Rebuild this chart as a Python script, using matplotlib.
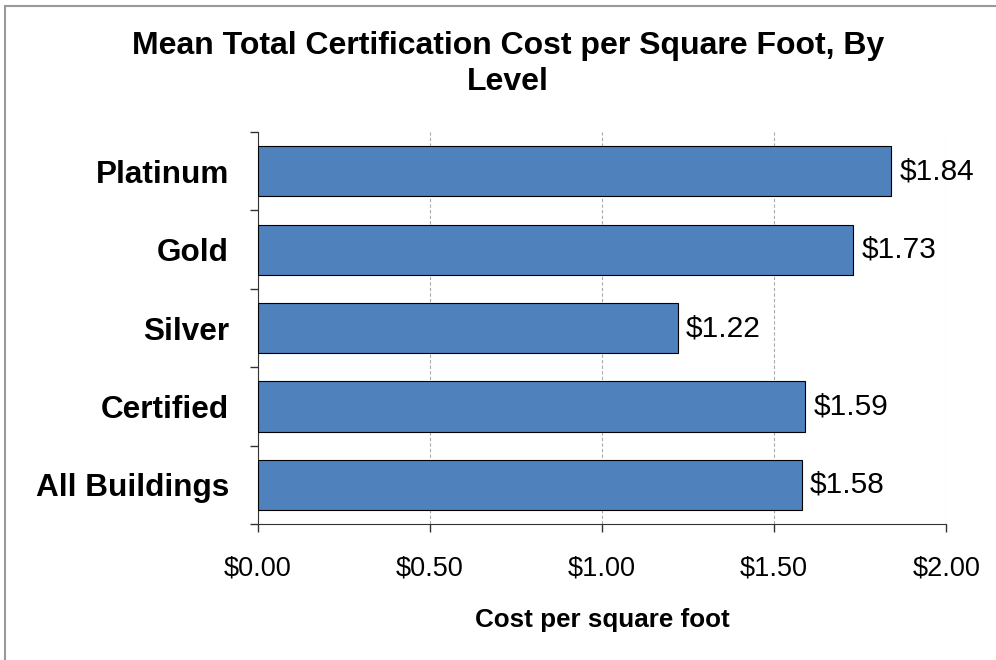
import matplotlib.pyplot as plt
from matplotlib.patches import Rectangle

plt.rcParams['font.family'] = ['Liberation Sans', 'DejaVu Sans']

levels = ['Platinum', 'Gold', 'Silver', 'Certified', 'All Buildings']
costs = [1.84, 1.73, 1.22, 1.59, 1.58]
xticks = [0.0, 0.5, 1.0, 1.5, 2.0]

fig = plt.figure(figsize=(9.96, 6.6), dpi=100)
ax = fig.add_axes([0.259, 0.206, 0.691, 0.594])

ypos = list(range(len(levels)))[::-1]
bars = ax.barh(ypos, costs, height=0.64, color='#4F81BD', edgecolor='black', linewidth=0.8, zorder=3)

for b, v in zip(bars, costs):
    ax.annotate('$%.2f' % v, (b.get_width(), b.get_y() + b.get_height() / 2),
                xytext=(6, 0), textcoords='offset points', va='center', ha='left',
                fontsize=21.5, zorder=4)

ax.set_xlim(0, 2.0)
ax.set_ylim(-0.5, len(levels) - 0.5)
ax.set_xticks(xticks)
ax.set_xticklabels(['$%.2f' % t for t in xticks], fontsize=19.5)
ax.set_yticks(ypos)
ax.set_yticklabels(levels, fontsize=22.7, fontweight='bold')
ax.set_yticks([i - 0.5 for i in range(len(levels) + 1)], minor=True)
ax.tick_params(axis='y', which='major', length=0, pad=21)
ax.tick_params(axis='y', which='minor', length=6, width=1, color='#333333')
ax.tick_params(axis='x', length=6, width=1, color='#333333', pad=17)
ax.xaxis.grid(True, linestyle=(0, (3, 2)), color='#aaaaaa', linewidth=0.8, zorder=0)
ax.spines['top'].set_visible(False)
ax.spines['right'].set_visible(False)
ax.spines['left'].set_color('#333333')
ax.spines['bottom'].set_color('#333333')
ax.set_xlabel('Cost per square foot', fontsize=18.7, fontweight='bold', labelpad=19)

fig.text(0.51, 0.903, 'Mean Total Certification Cost per Square Foot, By\nLevel',
         ha='center', va='center', fontsize=23, fontweight='bold', linespacing=1.3)

fig.patches.append(Rectangle((5 / 996, -0.1), 1.2, 1.1 - 6 / 660, transform=fig.transFigure,
                             fill=False, edgecolor='#999999', linewidth=1.5))

fig.savefig('out.png', dpi=100)
